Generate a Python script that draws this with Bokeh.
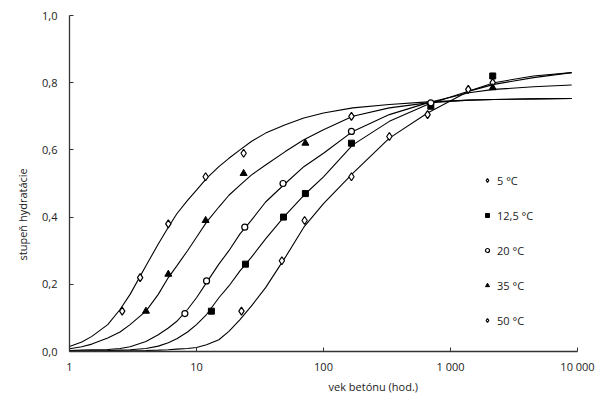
from bokeh.plotting import figure
from bokeh.models import (Range1d, FixedTicker, CustomJSTickFormatter, Title,
                          Legend, LegendItem)
from bokeh.embed import file_html
from bokeh.resources import INLINE

# ---- data ----
t_5 = [22.6, 47, 71, 166, 330, 660, 1380, 2150]
a_5 = [0.12, 0.27, 0.39, 0.52, 0.64, 0.705, 0.78, 0.80]
t_12 = [13.1, 24.3, 48.4, 72, 166, 700, 2150]
a_12 = [0.12, 0.26, 0.40, 0.47, 0.62, 0.73, 0.82]
t_20 = [8.1, 12, 24, 48, 166, 700]
a_20 = [0.113, 0.21, 0.37, 0.50, 0.655, 0.74]
t_35 = [4.0, 6.0, 11.8, 23.5, 72, 2150]
a_35 = [0.12, 0.23, 0.39, 0.53, 0.62, 0.785]
t_50 = [2.6, 3.6, 6.0, 11.8, 23.5, 166]
a_50 = [0.12, 0.22, 0.38, 0.52, 0.59, 0.70]

# fitted curves
curve_t = [1, 1.25, 1.5, 2, 2.5, 3, 4, 5, 6, 7, 8.5, 10, 12, 15, 18, 22, 27, 35,
           50, 70, 100, 170, 330, 660, 1400, 2200, 4500, 9000]
curve_50 = [0.015, 0.028, 0.045, 0.08, 0.125, 0.17, 0.255, 0.32, 0.37, 0.41,
            0.45, 0.48, 0.515, 0.55, 0.575, 0.60, 0.625, 0.65, 0.675, 0.695,
            0.71, 0.725, 0.735, 0.743, 0.748, 0.75, 0.752, 0.753]
curve_35 = [0.008, 0.014, 0.022, 0.04, 0.058, 0.08, 0.12, 0.17, 0.22, 0.255,
            0.30, 0.34, 0.385, 0.43, 0.465, 0.495, 0.525, 0.555, 0.595, 0.63,
            0.66, 0.70, 0.725, 0.74, 0.748, 0.75, 0.752, 0.753]
curve_20 = [0.003, 0.004, 0.005, 0.006, 0.009, 0.014, 0.03, 0.05, 0.07, 0.09,
            0.125, 0.16, 0.205, 0.26, 0.30, 0.35, 0.39, 0.445, 0.50, 0.55,
            0.59, 0.655, 0.705, 0.74, 0.77, 0.78, 0.788, 0.793]
curve_12 = [0.001, 0.001, 0.002, 0.003, 0.004, 0.005, 0.009, 0.016, 0.026, 0.038,
            0.058, 0.08, 0.11, 0.16, 0.195, 0.24, 0.28, 0.335, 0.405, 0.465,
            0.52, 0.615, 0.685, 0.735, 0.775, 0.795, 0.815, 0.83]
curve_5 = [0.0005, 0.0007, 0.001, 0.001, 0.0015, 0.002, 0.003, 0.004, 0.005, 0.007,
           0.009, 0.012, 0.02, 0.035, 0.06, 0.095, 0.135, 0.19, 0.28, 0.37,
           0.44, 0.53, 0.635, 0.71, 0.775, 0.80, 0.82, 0.83]

legend_labels = ["5 °C", "12,5 °C", "20 °C", "35 °C", "50 °C"]
x_ticks = [1, 10, 100, 1000, 10000]
y_ticks = [0.0, 0.2, 0.4, 0.6, 0.8, 1.0]
x_title = "vek betónu (hod.)"
y_title = "stupeň hydratácie"

FONT = "Open Sans"
INK = "#222222"

p = figure(width=600, height=399, x_axis_type="log",
           x_range=Range1d(1, 10000), y_range=Range1d(0, 1.0),
           output_backend="svg", toolbar_location=None,
           min_border_left=69, min_border_right=23, min_border_top=15,
           min_border_bottom=48)
p.outline_line_color = None
p.xgrid.visible = False
p.ygrid.visible = False
p.background_fill_color = "white"

for ax in (p.xaxis[0], p.yaxis[0]):
    ax.axis_line_color = "#333333"
    ax.axis_line_width = 1.3
    ax.major_tick_line_color = "#333333"
    ax.major_tick_in = 4
    ax.major_tick_out = 0
    ax.minor_tick_line_color = None
    ax.major_label_text_font = FONT
    ax.major_label_text_font_size = "11px"
    ax.major_label_text_color = INK

p.xaxis.ticker = FixedTicker(ticks=x_ticks, minor_ticks=[])
p.xaxis.formatter = CustomJSTickFormatter(code="""
    const s = Math.round(tick).toString();
    return s.replace(/\\B(?=(\\d{3})+(?!\\d))/g, ' ');
""")
p.xaxis.major_label_standoff = 7
p.yaxis.ticker = FixedTicker(ticks=y_ticks, minor_ticks=[])
p.yaxis.formatter = CustomJSTickFormatter(code="return tick.toFixed(1).replace('.', ',');")
p.yaxis.major_label_standoff = 12

# curves
for c in (curve_50, curve_35, curve_20, curve_12, curve_5):
    p.line(curve_t, c, line_color="black", line_width=1.1)

# points
r5 = p.scatter(t_5, a_5, marker="diamond", size=8, fill_color="white",
               line_color="black", line_width=1.2)
r12 = p.scatter(t_12, a_12, marker="square", size=6, fill_color="black",
                line_color="black")
r20 = p.scatter(t_20, a_20, marker="circle", size=6, fill_color="white",
                line_color="black", line_width=1.2)
r35 = p.scatter(t_35, a_35, marker="triangle", size=7, fill_color="black",
                line_color="black")
r50 = p.scatter(t_50, a_50, marker="diamond", size=8, fill_color="white",
                line_color="black", line_width=1.2)

legend = Legend(items=[LegendItem(label=l, renderers=[r]) for l, r in
                       zip(legend_labels, [r5, r12, r20, r35, r50])],
                location=(413, 21), orientation="vertical",
                glyph_width=10, glyph_height=20, label_height=20, spacing=15,
                label_standoff=5, padding=0, margin=0,
                border_line_color=None, background_fill_alpha=0,
                label_text_font=FONT, label_text_font_size="11px",
                label_text_color=INK)
p.add_layout(legend, "center")

p.add_layout(Title(text=x_title, align="left", offset=259, standoff=0,
                   text_font=FONT, text_font_size="11px",
                   text_font_style="normal", text_color=INK), "below")
p.add_layout(Title(text=y_title, align="left", offset=91, standoff=20,
                   text_font=FONT, text_font_size="11px",
                   text_font_style="normal", text_color=INK), "left")

open("out.html", "w").write(file_html(p, INLINE))
